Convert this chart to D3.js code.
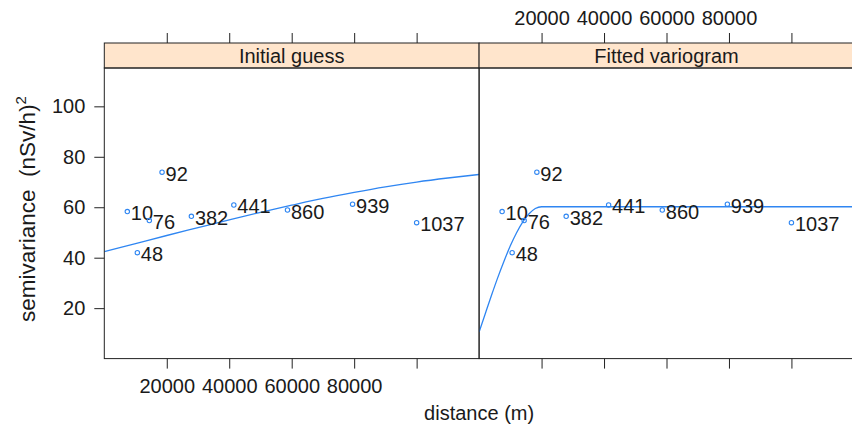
<!DOCTYPE html>
<html>
<head>
<meta charset="utf-8">
<script src="https://cdn.jsdelivr.net/npm/d3@7"></script>
<style>
    body { margin: 0; background: #fff; }
    svg { display: block; font-family: "Liberation Sans", Arial, sans-serif; }
    .tick text { font-size: 20px; fill: #1a1a1a; }
    .tick line { stroke: #222; }
</style>
</head>
<body>
<div id="chart"></div>
<script>
// semivariogram points (number of point pairs per lag)
const pairCounts = [10, 48, 76, 92, 382, 441, 860, 939, 1037]
const lagDistance = [7370, 10580, 14420, 18490, 27880, 41470, 58650, 79490, 100000]
const semivariance = [58.3, 42.0, 54.7, 73.9, 56.4, 60.9, 58.9, 61.2, 53.9]

// model lines
const guessDistance = [0, 10000, 20000, 30000, 40000, 50000, 60000, 70000, 80000, 90000, 100000, 110000, 120000]
const guessGamma = [42.4, 45.6, 48.8, 51.9, 55.0, 58.0, 60.8, 63.5, 65.9, 68.1, 70.0, 71.6, 73.0]
const fitDistance = [0, 2000, 4000, 6000, 8000, 10000, 12000, 14000, 16000, 18000, 20000, 120000]
const fitGamma = [10.5, 17.9, 25.2, 32.2, 38.7, 44.7, 49.9, 54.2, 57.4, 59.5, 60.2, 60.2]

const panelNames = ['Initial guess', 'Fitted variogram']
const xTicks = [20000, 40000, 60000, 80000, 100000]
const xTickLabels = ['20000', '40000', '60000', '80000', '']
const yTicks = [20, 40, 60, 80, 100]

document.addEventListener('DOMContentLoaded', () => draw())

function draw() {
    const width = 852
    const height = 430
    const left = 104.3
    const panelWidth = 374.8
    const top = 68
    const bottom = 358.6
    const stripHeight = 25
    const blue = '#2f86f2'
    const fontSize = 20

    const svg = d3.select('#chart')
        .append('svg')
        .attr('width', width)
        .attr('height', height)

    const y = d3.scaleLinear().domain([0, 115.2]).range([bottom, top])

    const panels = [
        { name: panelNames[0], lineX: guessDistance, lineY: guessGamma },
        { name: panelNames[1], lineX: fitDistance, lineY: fitGamma },
    ]

    const points = pairCounts.map((n, i) => ({ n, d: lagDistance[i], g: semivariance[i] }))

    panels.forEach((panel, p) => {
        const x0 = left + p * panelWidth
        const x = d3.scaleLinear().domain([0, 120000]).range([x0, x0 + panelWidth])
        const g = svg.append('g')

        g.append('clipPath').attr('id', `clip${p}`)
            .append('rect')
            .attr('x', x0).attr('y', top)
            .attr('width', panelWidth).attr('height', bottom - top)

        // strip
        g.append('rect')
            .attr('x', x0).attr('y', top - stripHeight)
            .attr('width', panelWidth).attr('height', stripHeight)
            .attr('fill', '#ffe5cc')
            .attr('stroke', '#222')
        g.append('text')
            .attr('x', x0 + panelWidth / 2)
            .attr('y', top - 5)
            .attr('text-anchor', 'middle')
            .attr('font-size', fontSize)
            .attr('fill', '#1a1a1a')
            .text(panel.name)

        // model line
        g.append('path')
            .datum(panel.lineX.map((d, i) => [d, panel.lineY[i]]))
            .attr('clip-path', `url(#clip${p})`)
            .attr('fill', 'none')
            .attr('stroke', blue)
            .attr('stroke-width', 1.3)
            .attr('d', d3.line()
                .x(d => x(d[0]))
                .y(d => y(d[1]))
                .curve(d3.curveMonotoneX))

        // points and labels
        const pt = g.append('g').selectAll('g')
            .data(points)
            .enter()
            .append('g')
        pt.append('circle')
            .attr('cx', d => x(d.d))
            .attr('cy', d => y(d.g))
            .attr('r', 2.2)
            .attr('fill', 'none')
            .attr('stroke', blue)
            .attr('stroke-width', 1.1)
        pt.append('text')
            .attr('x', d => x(d.d) + 3.5)
            .attr('y', d => y(d.g) + 1.5)
            .attr('dy', '0.35em')
            .attr('font-size', fontSize)
            .attr('fill', '#1a1a1a')
            .text(d => d.n)

        // ticks: labels on bottom for left panel, top for right panel
        const fmt = (d, i) => xTickLabels[i]
        const axBottom = g.append('g')
            .attr('transform', `translate(0, ${bottom})`)
            .call(d3.axisBottom(x).tickValues(xTicks).tickSize(10).tickPadding(10)
                .tickFormat(p === 0 ? fmt : () => ''))
        const axTop = g.append('g')
            .attr('transform', `translate(0, ${top - stripHeight})`)
            .call(d3.axisTop(x).tickValues(xTicks).tickSize(10).tickPadding(8)
                .tickFormat(p === 1 ? fmt : () => ''))
        axBottom.select('.domain').remove()
        axTop.select('.domain').remove()

        // panel border
        g.append('rect')
            .attr('x', x0).attr('y', top)
            .attr('width', panelWidth).attr('height', bottom - top)
            .attr('fill', 'none')
            .attr('stroke', '#222')
    })

    const yAxis = svg.append('g')
        .attr('transform', `translate(${left}, 0)`)
        .call(d3.axisLeft(y).tickValues(yTicks).tickSize(10).tickPadding(9))
    yAxis.select('.domain').remove()

    svg.append('text')
        .attr('x', left + panelWidth)
        .attr('y', 420)
        .attr('text-anchor', 'middle')
        .attr('font-size', fontSize)
        .attr('fill', '#1a1a1a')
        .text('distance (m)')

    const yLabel = svg.append('text')
        .attr('transform', 'translate(35, 209) rotate(-90)')
        .attr('text-anchor', 'middle')
        .attr('font-size', 22.5)
        .attr('fill', '#1a1a1a')
    yLabel.append('tspan').text('semivariance\u00a0\u00a0(nSv/h)')
    yLabel.append('tspan').attr('dy', -9).attr('font-size', 15).text('2')
}
</script>
</body>
</html>
